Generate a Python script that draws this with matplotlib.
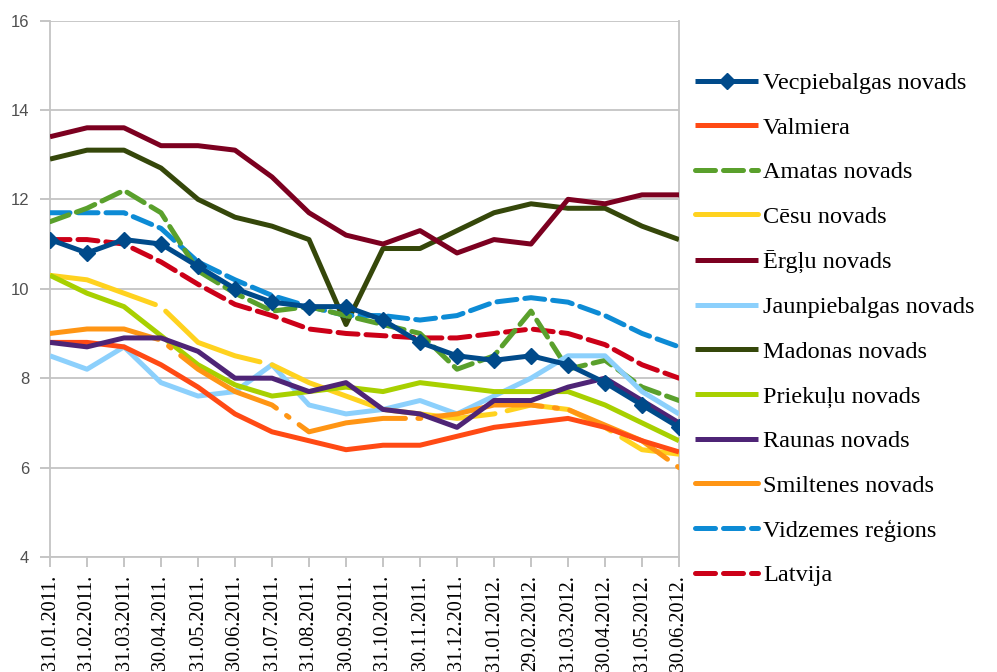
import matplotlib
matplotlib.use("Agg")
import matplotlib.pyplot as plt
import numpy as np

dates = ["31.01.2011.", "31.02.2011.", "31.03.2011.", "30.04.2011.", "31.05.2011.",
         "30.06.2011.", "31.07.2011.", "31.08.2011.", "30.09.2011.", "31.10.2011.",
         "30.11.2011.", "31.12.2011.", "31.01.2012.", "29.02.2012.", "31.03.2012.",
         "30.04.2012.", "31.05.2012.", "30.06.2012."]

vecpiebalgas = [11.1, 10.8, 11.1, 11.0, 10.5, 10.0, 9.7, 9.6, 9.6, 9.3, 8.8, 8.5, 8.4, 8.5, 8.3, 7.9, 7.4, 6.9]
valmiera = [8.8, 8.8, 8.7, 8.3, 7.8, 7.2, 6.8, 6.6, 6.4, 6.5, 6.5, 6.7, 6.9, 7.0, 7.1, 6.9, 6.6, 6.35]
amatas = [11.5, 11.8, 12.2, 11.7, 10.4, 9.9, 9.5, 9.6, 9.4, 9.2, 9.0, 8.2, 8.5, 9.5, 8.2, 8.4, 7.8, 7.5]
cesu = [10.3, 10.2, 9.9, 9.6, 8.8, 8.5, 8.3, 7.9, 7.6, 7.3, 7.2, 7.1, 7.2, 7.4, 7.3, 6.9, 6.4, 6.3]
erglu = [13.4, 13.6, 13.6, 13.2, 13.2, 13.1, 12.5, 11.7, 11.2, 11.0, 11.3, 10.8, 11.1, 11.0, 12.0, 11.9, 12.1, 12.1]
jaunpiebalgas = [8.5, 8.2, 8.7, 7.9, 7.6, 7.7, 8.3, 7.4, 7.2, 7.3, 7.5, 7.2, 7.6, 8.0, 8.5, 8.5, 7.7, 7.2]
madonas = [12.9, 13.1, 13.1, 12.7, 12.0, 11.6, 11.4, 11.1, 9.2, 10.9, 10.9, 11.3, 11.7, 11.9, 11.8, 11.8, 11.4, 11.1]
priekulu = [10.3, 9.9, 9.6, 8.95, 8.3, 7.85, 7.6, 7.7, 7.8, 7.7, 7.9, 7.8, 7.7, 7.7, 7.7, 7.4, 7.0, 6.6]
raunas = [8.8, 8.7, 8.9, 8.9, 8.6, 8.0, 8.0, 7.7, 7.9, 7.3, 7.2, 6.9, 7.5, 7.5, 7.8, 8.0, 7.5, 7.0]
smiltenes = [9.0, 9.1, 9.1, 8.85, 8.2, 7.7, 7.4, 6.8, 7.0, 7.1, 7.1, 7.2, 7.4, 7.4, 7.3, 6.95, 6.6, 6.0]
vidzemes = [11.7, 11.7, 11.7, 11.35, 10.6, 10.2, 9.85, 9.6, 9.4, 9.4, 9.3, 9.4, 9.7, 9.8, 9.7, 9.4, 9.0, 8.7]
latvija = [11.1, 11.1, 11.0, 10.6, 10.1, 9.65, 9.4, 9.1, 9.0, 8.95, 8.9, 8.9, 9.0, 9.1, 9.0, 8.75, 8.3, 8.0]

labels = ["Vecpiebalgas novads", "Valmiera", "Amatas novads", "Cēsu novads", "Ērgļu novads",
          "Jaunpiebalgas novads", "Madonas novads", "Priekuļu novads", "Raunas novads",
          "Smiltenes novads", "Vidzemes reģions", "Latvija"]

fig = plt.figure(figsize=(9.97, 6.72), dpi=100)
ax = fig.add_axes([50 / 997, 1 - 557 / 672, (679 - 50) / 997, (557 - 20.5) / 672])

x = np.arange(len(dates))
lw = 3.6

# (data, color, dashes, marker)
styles = [
    (vecpiebalgas, "#004A8A", None, "D"),
    (valmiera, "#FF4A14", None, None),
    (amatas, "#5AA02C", (4, 1.6), None),
    (cesu, "#FFD21F", (22, 2.5), None),
    (erglu, "#7C0020", None, None),
    (jaunpiebalgas, "#8CD0FC", None, None),
    (madonas, "#35470A", None, None),
    (priekulu, "#A8D000", None, None),
    (raunas, "#4E2476", None, None),
    (smiltenes, "#FF9514", (22, 2.5, 0.6, 2.5), None),
    (vidzemes, "#0D8BD5", (4, 1.6), None),
    (latvija, "#CC0018", (4, 1.6), None),
]

draw_order = [6, 4, 10, 11, 2, 0, 5, 3, 7, 9, 1, 8]
handles = [None] * len(styles)
for i in draw_order:
    data, color, dash, marker = styles[i]
    kw = dict(color=color, lw=lw, solid_joinstyle="round", dash_joinstyle="round",
              solid_capstyle="butt", label=labels[i], zorder=3 + (1 if i == 0 else 0))
    if marker:
        kw.update(marker=marker, markersize=8, markerfacecolor=color, markeredgecolor=color)
    line, = ax.plot(x, data, **kw)
    if dash is not None:
        line.set_dashes(dash)
        line.set_dash_capstyle("round")
    handles[i] = line

ax.set_xlim(0, 17)
ax.set_ylim(4, 16)
ax.set_yticks([4, 6, 8, 10, 12, 14, 16])
ax.set_yticklabels(["4", "6", "8", "10", "12", "14", "16"], fontsize=12,
                   family="Liberation Sans", color="#505050")
ax.set_xticks(x)
ax.set_xticklabels(dates, rotation=90, fontsize=14.5, family="Liberation Serif",
                   color="black", va="top")
ax.tick_params(axis="x", length=7, width=1.2, color="#BBBBBB", pad=6)
ax.tick_params(axis="y", length=7, width=1.2, color="#BBBBBB", pad=8)
ax.grid(axis="y", color="#C4C4C4", lw=1.3, zorder=0)
for s in ["left", "bottom", "right", "top"]:
    ax.spines[s].set_color("#C4C4C4")
    ax.spines[s].set_linewidth(1.3)
ax.spines["top"].set_visible(False)

leg = fig.legend(handles=handles, labels=labels, loc="upper left",
                 bbox_to_anchor=(695 / 997, 1 - 72 / 672), frameon=False,
                 prop={"family": "Liberation Serif", "size": 17.5},
                 handlelength=2.6, handletextpad=0.2, labelspacing=0.93,
                 borderaxespad=0, borderpad=0)
for lh in leg.get_lines():
    lh.set_linewidth(3.6)

fig.savefig("out.png", dpi=100, facecolor="white")
